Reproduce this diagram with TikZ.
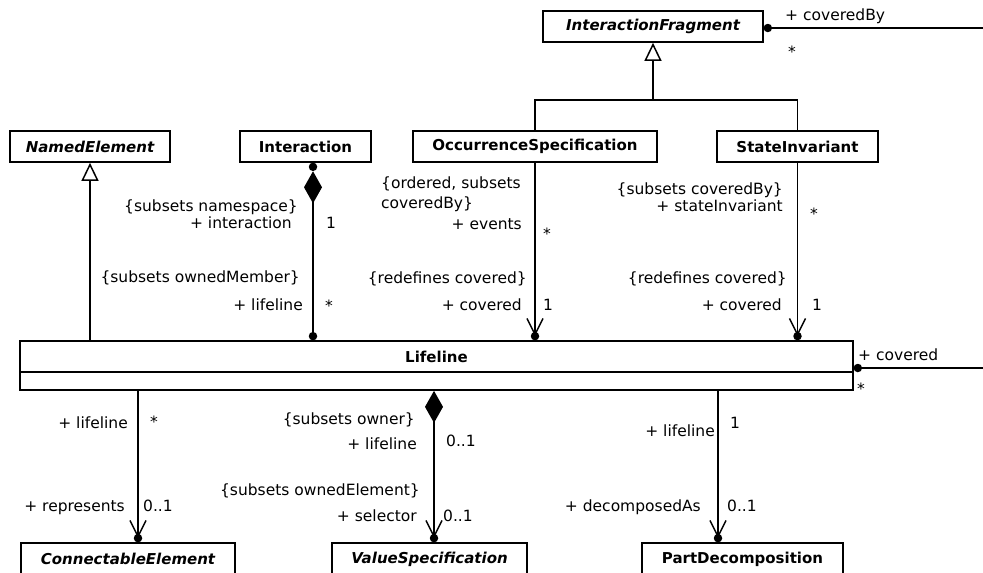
\documentclass[tikz,border=0pt]{standalone}
\usepackage{fontspec}
\setmainfont{DejaVu Sans}
\usetikzlibrary{arrows.meta}
\newcommand{\clsfnt}{\fontsize{15}{18}\selectfont\bfseries}
\newcommand{\lblfnt}{\fontsize{15.5}{18}\selectfont}
\tikzset{
  cls/.style={draw, line width=1.7pt, fill=white, font=\clsfnt, inner sep=0pt, minimum height=31pt},
  lbl/.style={inner sep=0pt, font=\lblfnt},
  conn/.style={line width=1.5pt},
  dotn/.style={circle, fill=black, inner sep=0pt, minimum size=8.5pt},
  gen/.style={conn, -{Triangle[open, length=18pt, width=17pt]}},
  nav/.style={conn, -{Straight Barb[length=16pt, width=16pt]}},
  comp/.style={conn, {Diamond[length=32pt, width=18pt]}-},
  compnav/.style={conn, {Diamond[length=32pt, width=18pt]}-{Straight Barb[length=16pt, width=16pt]}},
}
\begin{document}
\begin{tikzpicture}[x=1pt, y=-1pt]
\useasboundingbox (0,0) rectangle (983,573);
\coordinate (edge) at (983,0);
\coordinate (gy) at (0,100);

% classes
\node[cls, minimum width=220pt] (ifrag) at (653,26.5) {\itshape InteractionFragment};
\node[cls, minimum width=160pt] (named) at (90,146.5) {\itshape NamedElement};
\node[cls, minimum width=131pt] (inter) at (305.5,146.5) {Interaction};
\node[cls, minimum width=244pt] (occ) at (535,146.5) {OccurrenceSpecification};
\node[cls, minimum width=161pt] (stinv) at (797.5,146.5) {StateInvariant};
\node[cls, minimum width=833pt] (lifeline) at (436.5,356.5) {Lifeline};
\node[cls, minimum width=833pt, minimum height=18pt] (lifeattr) at (436.5,381) {};
\node[cls, minimum width=214pt, minimum height=32pt] (connel) at (128,559) {\itshape ConnectableElement};
\node[cls, minimum width=195pt, minimum height=32pt] (valspec) at (429.5,559) {\itshape ValueSpecification};
\node[cls, minimum width=201pt, minimum height=32pt] (partdec) at (742.5,559) {PartDecomposition};

% generalizations
\coordinate (gj) at (ifrag.south |- gy);
\draw[conn] (occ.north) |- (gj) -| (stinv.north);
\draw[gen] (gj) -- (ifrag.south);
\coordinate (ng) at (named.south |- lifeline.north);
\draw[gen] (ng) -- (named.south);

% Interaction -- Lifeline
\coordinate (ia) at ([xshift=7.5pt]inter.south);
\coordinate (ib) at (ia |- lifeline.north);
\node[dotn] (ida) at ([yshift=-4pt]ia) {};
\node[dotn] (idb) at ([yshift=4pt]ib) {};
\draw[comp] (ida.south) -- (idb.center);

% OccurrenceSpecification -- Lifeline
\coordinate (ob) at (occ.south |- lifeline.north);
\node[dotn] (od) at ([yshift=4pt]ob) {};
\draw[nav] (occ.south) -- (od.center);

% StateInvariant -- Lifeline
\coordinate (sb) at (stinv.south |- lifeline.north);
\node[dotn] (sd) at ([yshift=4pt]sb) {};
\draw[nav] (stinv.south) -- (sd.center);

% coveredBy
\node[dotn] (cbd) at ([xshift=4pt, yshift=-1.5pt]ifrag.east) {};
\coordinate (cbe) at (cbd -| edge);
\draw[conn] (cbd.center) -- (cbe);

% covered
\node[dotn] (cd) at ([xshift=4pt, yshift=-11.5pt]lifeline.east) {};
\coordinate (ce) at (cd -| edge);
\draw[conn] (cd.center) -- (ce);

% Lifeline -- ConnectableElement
\coordinate (ca) at ([xshift=10pt]connel.north);
\coordinate (ct) at (ca |- lifeattr.south);
\node[dotn] (cdot) at ([yshift=4pt]ca) {};
\draw[nav] (ct) -- (cdot.center);

% Lifeline -- ValueSpecification
\coordinate (va) at ([xshift=4.5pt]valspec.north);
\coordinate (vt) at (va |- lifeattr.south);
\node[dotn] (vdot) at ([yshift=4pt]va) {};
\draw[compnav] (vt) -- (vdot.center);

% Lifeline -- PartDecomposition
\coordinate (pa) at ([xshift=-24.5pt]partdec.north);
\coordinate (pt) at (pa |- lifeattr.south);
\node[dotn] (pdot) at ([yshift=4pt]pa) {};
\draw[nav] (pt) -- (pdot.center);

% labels
\node[lbl, anchor=base west] (l1) at (785,20.5) {+ coveredBy};
\node[lbl, anchor=base west] (l2) at (788,57) {*};

\node[lbl, anchor=base east] (l3) at (298,211) {\{subsets namespace\}};
\node[lbl, anchor=base east] (l4) at (292,228.5) {+ interaction};
\node[lbl, anchor=base west] (l5) at (326,228.5) {1};
\node[lbl, anchor=base east] (l6) at (300,282) {\{subsets ownedMember\}};
\node[lbl, anchor=base east] (l7) at (303,310) {+ lifeline};
\node[lbl, anchor=base west] (l8) at (325,311) {*};

\node[lbl, anchor=base west] (l9) at (381,188) {\{ordered, subsets};
\node[lbl, anchor=base west] (l10) at (381,208) {coveredBy\}};
\node[lbl, anchor=base east] (l11) at (522,229) {+ events};
\node[lbl, anchor=base west] (l12) at (543,239) {*};
\node[lbl, anchor=base east] (l13) at (527,283) {\{redefines covered\}};
\node[lbl, anchor=base east] (l14) at (522,310) {+ covered};
\node[lbl, anchor=base west] (l15) at (543,310) {1};

\node[lbl, anchor=base east] (l16) at (783,194) {\{subsets coveredBy\}};
\node[lbl, anchor=base east] (l17) at (783,211) {+ stateInvariant};
\node[lbl, anchor=base west] (l18) at (810,219) {*};
\node[lbl, anchor=base east] (l19) at (787,283) {\{redefines covered\}};
\node[lbl, anchor=base east] (l20) at (782,310) {+ covered};
\node[lbl, anchor=base west] (l21) at (812,310) {1};

\node[lbl, anchor=base west] (l22) at (858,360) {+ covered};
\node[lbl, anchor=base west] (l23) at (857,394) {*};

\node[lbl, anchor=base east] (l24) at (128,428) {+ lifeline};
\node[lbl, anchor=base west] (l25) at (150,427) {*};
\node[lbl, anchor=base east] (l26) at (125,511) {+ represents};
\node[lbl, anchor=base west] (l27) at (143,511) {0..1};

\node[lbl, anchor=base east] (l28) at (415,424) {\{subsets owner\}};
\node[lbl, anchor=base east] (l29) at (417,449) {+ lifeline};
\node[lbl, anchor=base west] (l30) at (446,446) {0..1};
\node[lbl, anchor=base east] (l31) at (420,495) {\{subsets ownedElement\}};
\node[lbl, anchor=base east] (l32) at (417,521) {+ selector};
\node[lbl, anchor=base west] (l33) at (443,521) {0..1};

\node[lbl, anchor=base east] (l34) at (715,436) {+ lifeline};
\node[lbl, anchor=base west] (l35) at (730,428) {1};
\node[lbl, anchor=base east] (l36) at (701,511) {+ decomposedAs};
\node[lbl, anchor=base west] (l37) at (727,511) {0..1};
\end{tikzpicture}
\end{document}
